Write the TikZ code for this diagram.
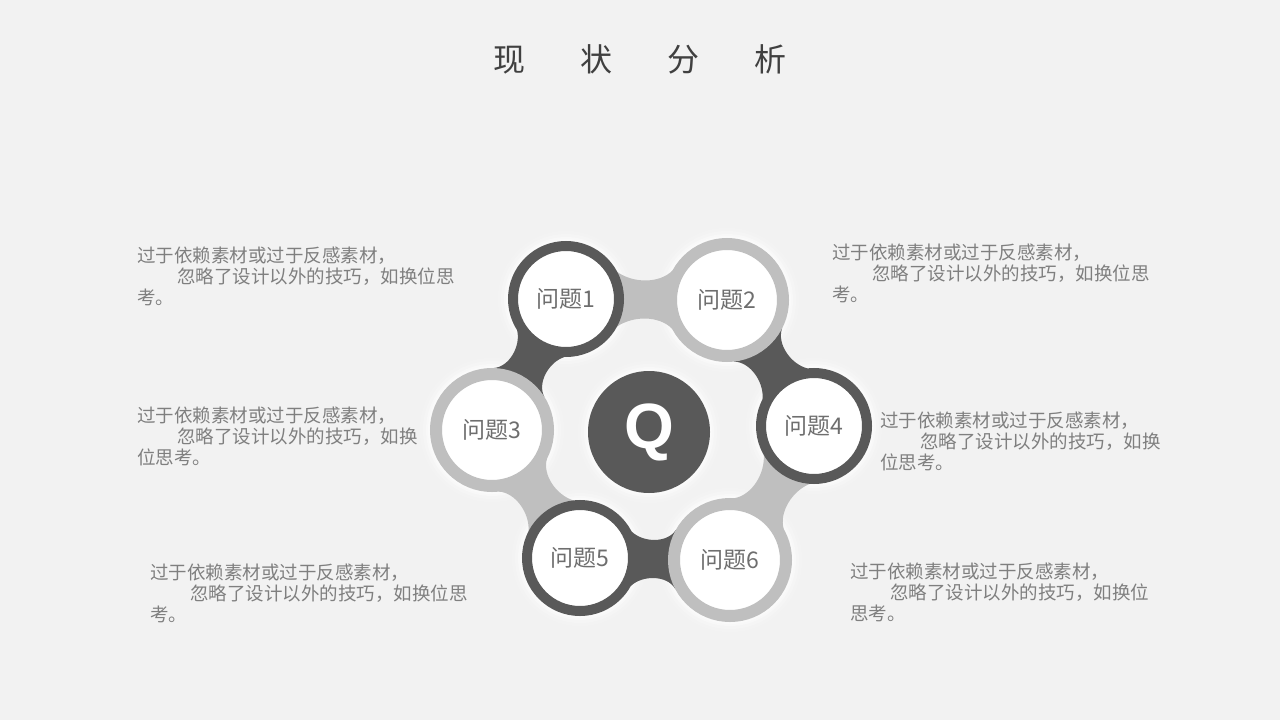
\documentclass[tikz,border=0pt]{standalone}
\usepackage{fontspec}
\usetikzlibrary{calc}
\newfontfamily\cjk{Noto Sans CJK SC}
\newfontfamily\qfont{Liberation Sans}
\definecolor{bg}{HTML}{F2F2F2}
\definecolor{dk}{HTML}{595959}
\definecolor{lt}{HTML}{BFBFBF}
\definecolor{txt}{HTML}{7F7F7F}
\definecolor{lbl}{HTML}{6E6E6E}
\definecolor{ttl}{HTML}{404040}
\newcommand\drawneck[5]{%
  \fill[#1] (#2) -- ($(#2)!#3pt!28:(#4)$)
    .. controls ($($(#2)!.42!(#4)$)!16pt!90:(#4)$) and ($($(#2)!.58!(#4)$)!16pt!90:(#4)$)
    .. ($(#4)!#5pt!-28:(#2)$)
    -- (#4) -- ($(#4)!#5pt!28:(#2)$)
    .. controls ($($(#2)!.58!(#4)$)!16pt!-90:(#4)$) and ($($(#2)!.42!(#4)$)!16pt!-90:(#4)$)
    .. ($(#2)!#3pt!-28:(#4)$)
    -- cycle;}
\newcommand\glowc[2]{%
  \foreach \k/\o in {10/0.15,7/0.2,4/0.3,2/0.4}
    \fill[white,opacity=\o] (#1) circle[radius=#2+\k];}
\begin{document}
\begin{tikzpicture}[x=1pt,y=-1pt,
  ringdk/.style={circle,draw=dk,line width=10pt,fill=white,minimum size=106pt,inner sep=0,
     text=lbl,font=\cjk\fontsize{23}{26}\selectfont},
  ringlt/.style={circle,draw=lt,line width=12pt,fill=white,minimum size=112pt,inner sep=0,
     text=lbl,font=\cjk\fontsize{23}{26}\selectfont},
  desc/.style={anchor=north west,inner sep=0,align=left,text=txt,
     font=\cjk\fontsize{18.5}{20.7}\selectfont}]
\fill[bg] (0,0) rectangle (1280,720);
\useasboundingbox (0,0) rectangle (1280,720);
% title
\node[font=\cjk\fontsize{32}{36}\selectfont,text=ttl] (title) at (640,59)
  {现\hspace{55pt}状\hspace{55pt}分\hspace{55pt}析};
% centres
\coordinate (c1) at (566,299);
\coordinate (c2) at (727,300);
\coordinate (c3) at (492,430);
\coordinate (c4) at (814,426);
\coordinate (c5) at (580,558);
\coordinate (c6) at (730,560);
\coordinate (cq) at (649,432);
% glows
\glowc{c1}{58}\glowc{c2}{62}\glowc{c3}{62}
\glowc{c4}{58}\glowc{c5}{58}\glowc{c6}{62}\glowc{cq}{61}
% necks
\drawneck{lt}{c1}{58}{c2}{62}
\drawneck{dk}{c2}{62}{c4}{58}
\drawneck{lt}{c4}{58}{c6}{62}
\drawneck{dk}{c6}{62}{c5}{58}
\drawneck{lt}{c5}{58}{c3}{62}
\drawneck{dk}{c3}{62}{c1}{58}
% circles
\node[ringdk] (q1) at (c1) {问题1};
\node[ringlt] (q2) at (c2) {问题2};
\node[ringlt] (q3) at (c3) {问题3};
\node[ringdk] (q4) at (c4) {问题4};
\node[ringdk] (q5) at (c5) {问题5};
\node[ringlt] (q6) at (c6) {问题6};
\node[circle,fill=dk,minimum size=122pt,inner sep=0,text=white,
  font=\qfont\bfseries\fontsize{64}{70}\selectfont] (q) at (cq) {Q};
% descriptions
\node[desc] (t1) at (137,247) {过于依赖素材或过于反感素材，\\\hspace*{40pt}忽略了设计以外的技巧，如换位思\\考。};
\node[desc] (t2) at (832,244) {过于依赖素材或过于反感素材，\\\hspace*{40pt}忽略了设计以外的技巧，如换位思\\考。};
\node[desc] (t3) at (137,407) {过于依赖素材或过于反感素材，\\\hspace*{40pt}忽略了设计以外的技巧，如换\\位思考。};
\node[desc] (t4) at (880,412) {过于依赖素材或过于反感素材，\\\hspace*{40pt}忽略了设计以外的技巧，如换\\位思考。};
\node[desc] (t5) at (150,564) {过于依赖素材或过于反感素材，\\\hspace*{40pt}忽略了设计以外的技巧，如换位思\\考。};
\node[desc] (t6) at (850,563) {过于依赖素材或过于反感素材，\\\hspace*{40pt}忽略了设计以外的技巧，如换位\\思考。};
\end{tikzpicture}
\end{document}
